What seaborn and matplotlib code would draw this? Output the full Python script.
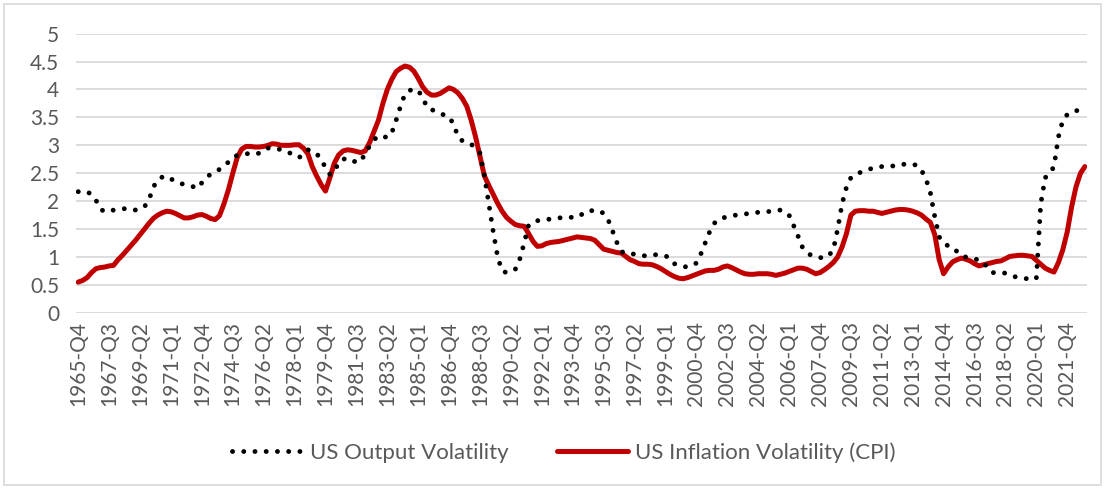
import numpy as np
import pandas as pd
import matplotlib.pyplot as plt
import seaborn as sns

# quarterly categories 1965-Q4 .. 2022-Q4
quarters = [f"{p.year}-Q{p.quarter}" for p in pd.period_range("1965Q4", "2022Q4", freq="Q")]

# US Output Volatility (dotted)
output_vol = [
    2.17, 2.17, 2.17, 2.12, 2.02, 1.86, 1.81, 1.82, 1.84, 1.85,
    1.86, 1.87, 1.86, 1.84, 1.86, 1.90, 2.02, 2.25, 2.38, 2.43,
    2.45, 2.40, 2.35, 2.32, 2.30, 2.28, 2.26, 2.23, 2.33, 2.43,
    2.48, 2.52, 2.57, 2.62, 2.70, 2.78, 2.82, 2.84, 2.85, 2.85,
    2.84, 2.86, 2.92, 2.95, 2.95, 2.94, 2.92, 2.89, 2.86, 2.82,
    2.78, 2.84, 2.92, 2.90, 2.85, 2.75, 2.60, 2.48, 2.52, 2.70,
    2.75, 2.77, 2.74, 2.69, 2.72, 2.85, 2.99, 3.10, 3.17, 3.16,
    3.14, 3.22, 3.45, 3.70, 3.92, 3.98, 4.01, 3.98, 3.86, 3.68,
    3.64, 3.61, 3.57, 3.54, 3.51, 3.38, 3.16, 3.08, 3.04, 3.02,
    2.95, 2.86, 2.45, 1.95, 1.45, 1.00, 0.75, 0.72, 0.74, 0.78,
    0.96, 1.25, 1.57, 1.62, 1.65, 1.66, 1.67, 1.68, 1.69, 1.70,
    1.71, 1.71, 1.71, 1.71, 1.76, 1.82, 1.83, 1.83, 1.83, 1.78,
    1.67, 1.47, 1.26, 1.10, 1.06, 1.06, 1.05, 1.04, 1.02, 1.03,
    1.04, 1.04, 1.03, 1.02, 0.98, 0.88, 0.85, 0.83, 0.82, 0.85,
    0.89, 1.05, 1.25, 1.45, 1.60, 1.67, 1.70, 1.72, 1.74, 1.75,
    1.76, 1.77, 1.78, 1.79, 1.80, 1.80, 1.81, 1.82, 1.83, 1.84,
    1.81, 1.75, 1.57, 1.38, 1.18, 1.08, 1.03, 1.00, 0.99, 0.98,
    1.03, 1.12, 1.50, 1.95, 2.25, 2.42, 2.47, 2.51, 2.54, 2.57,
    2.59, 2.60, 2.62, 2.62, 2.63, 2.63, 2.65, 2.66, 2.67, 2.66,
    2.64, 2.55, 2.40, 2.15, 1.72, 1.36, 1.25, 1.20, 1.18, 1.10,
    1.02, 1.00, 0.99, 0.97, 0.94, 0.91, 0.80, 0.72, 0.72, 0.72,
    0.71, 0.68, 0.65, 0.63, 0.62, 0.61, 0.61, 0.61, 1.95, 2.42,
    2.49, 2.62, 3.15, 3.45, 3.55, 3.60, 3.62, 3.63, 3.63,
]

# US Inflation Volatility (CPI) (red)
inflation_vol = [
    0.55, 0.58, 0.63, 0.72, 0.79, 0.81, 0.82, 0.84, 0.85, 0.95,
    1.03, 1.12, 1.21, 1.30, 1.40, 1.50, 1.60, 1.69, 1.75, 1.79,
    1.82, 1.81, 1.78, 1.74, 1.70, 1.70, 1.72, 1.75, 1.76, 1.73,
    1.69, 1.67, 1.74, 1.95, 2.20, 2.50, 2.78, 2.93, 2.98, 2.98,
    2.97, 2.97, 2.98, 3.00, 3.03, 3.02, 3.00, 3.00, 3.00, 3.01,
    3.01, 2.95, 2.85, 2.62, 2.45, 2.30, 2.18, 2.42, 2.68, 2.83,
    2.90, 2.92, 2.91, 2.89, 2.87, 2.90, 3.05, 3.25, 3.45, 3.75,
    4.00, 4.18, 4.32, 4.38, 4.42, 4.40, 4.33, 4.20, 4.05, 3.95,
    3.90, 3.90, 3.93, 3.98, 4.03, 4.00, 3.94, 3.84, 3.70, 3.45,
    3.15, 2.80, 2.45, 2.28, 2.12, 1.96, 1.82, 1.71, 1.64, 1.58,
    1.56, 1.55, 1.42, 1.28, 1.19, 1.20, 1.24, 1.26, 1.27, 1.28,
    1.30, 1.32, 1.34, 1.36, 1.35, 1.34, 1.33, 1.30, 1.22, 1.14,
    1.12, 1.10, 1.08, 1.07, 1.01, 0.95, 0.92, 0.88, 0.87, 0.87,
    0.86, 0.83, 0.79, 0.74, 0.69, 0.65, 0.62, 0.61, 0.63, 0.66,
    0.69, 0.72, 0.75, 0.76, 0.76, 0.78, 0.82, 0.84, 0.81, 0.77,
    0.73, 0.70, 0.69, 0.69, 0.70, 0.70, 0.70, 0.69, 0.67, 0.69,
    0.71, 0.74, 0.77, 0.80, 0.80, 0.78, 0.74, 0.70, 0.72, 0.77,
    0.83, 0.90, 1.00, 1.18, 1.42, 1.75, 1.82, 1.83, 1.83, 1.82,
    1.82, 1.80, 1.78, 1.80, 1.82, 1.84, 1.85, 1.85, 1.84, 1.82,
    1.79, 1.75, 1.68, 1.62, 1.40, 0.95, 0.70, 0.82, 0.91, 0.95,
    0.98, 0.96, 0.93, 0.88, 0.84, 0.86, 0.88, 0.90, 0.92, 0.93,
    0.97, 1.01, 1.02, 1.03, 1.03, 1.02, 1.01, 0.94, 0.87, 0.80,
    0.76, 0.73, 0.90, 1.13, 1.45, 1.90, 2.26, 2.50, 2.62,
]

y_ticks = [0, 0.5, 1, 1.5, 2, 2.5, 3, 3.5, 4, 4.5, 5]
y_labels = ["0", "0.5", "1", "1.5", "2", "2.5", "3", "3.5", "4", "4.5", "5"]

df = pd.DataFrame({
    "pos": np.arange(len(quarters)),
    "quarter": quarters,
    "output": output_vol,
    "inflation": inflation_vol,
})

sns.set_theme(style="white")
plt.rcParams["font.family"] = ["Lato", "DejaVu Sans"]

text_grey = "#595959"
grid_grey = "#D9D9D9"

fig = plt.figure(figsize=(11.05, 4.88), dpi=100)
ax = fig.add_axes([0.0688, 0.359, 0.915, 0.572])

sns.lineplot(data=df, x="pos", y="inflation", ax=ax, color="#C00000", linewidth=3.6,
             solid_capstyle="round", label="US Inflation Volatility (CPI)", zorder=3)
sns.lineplot(data=df, x="pos", y="output", ax=ax, color="black", linewidth=3.5,
             linestyle=(0, (0.01, 2.3)), dash_capstyle="round",
             label="US Output Volatility", zorder=4)

ax.set_xlim(-0.5, len(quarters) - 0.5)
ax.set_ylim(0, 5)
ax.set_yticks(y_ticks)
ax.set_yticklabels(y_labels)
ax.set_xticks(df["pos"][::7])
ax.set_xticklabels(df["quarter"][::7], rotation=90)
ax.tick_params(axis="both", length=0, labelsize=15, colors=text_grey)
ax.tick_params(axis="y", pad=12)
ax.tick_params(axis="x", pad=6)
ax.yaxis.grid(True, color=grid_grey, linewidth=1.3)
ax.set_axisbelow(True)
for s in ax.spines.values():
    s.set_visible(False)
ax.set_xlabel("")
ax.set_ylabel("")

handles, labels = ax.get_legend_handles_labels()
ax.legend_.remove()
fig.legend(handles[::-1], labels[::-1], loc="center", bbox_to_anchor=(0.51, 0.073),
           ncol=2, frameon=False, fontsize=16, handlelength=3.2, columnspacing=2.2,
           handletextpad=0.3, labelcolor=text_grey)

fig.add_artist(plt.Rectangle((0.004, 0.006), 0.992, 0.986, transform=fig.transFigure,
                             fill=False, edgecolor=grid_grey, linewidth=1.2))

fig.savefig("out.png", dpi=100)
